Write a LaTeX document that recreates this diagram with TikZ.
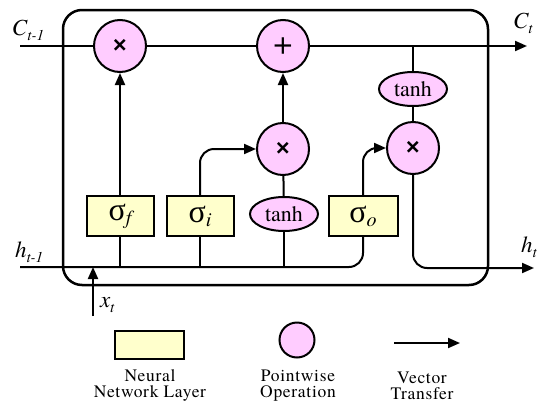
\documentclass[tikz,border=0pt]{standalone}
\usepackage{fontspec}
\setmainfont{texgyretermes}[Extension=.otf, UprightFont=*-regular,
  BoldFont=*-bold, ItalicFont=*-italic, BoldItalicFont=*-bolditalic]
\newfontfamily\greekfont{Liberation Serif}
\usepackage{xcolor}
\usetikzlibrary{shapes,arrows.meta,positioning,calc}

\definecolor{oppink}{RGB}{255,204,255}
\definecolor{nnyellow}{RGB}{255,255,204}
\newcommand{\lowsub}[1]{\raisebox{-5pt}{\fontsize{15}{15}\selectfont #1}}
\newcommand{\sgate}[1]{{\greekfont\fontsize{32}{32}\selectfont σ}\raisebox{-4pt}{\fontsize{20}{20}\selectfont\itshape #1}}
\newcommand{\opmul}{{\fontsize{29}{29}\selectfont\bfseries ×}}
\newcommand{\opadd}{{\fontsize{34}{34}\selectfont +}}

\begin{document}
\begin{tikzpicture}[
  x=1pt, y=-1pt, line width=2pt,
  op/.style={draw, line width=2pt, circle, fill=oppink,
             minimum size=52pt, inner sep=0pt},
  layer/.style={draw, line width=2pt, fill=nnyellow,
                minimum width=67pt, minimum height=40pt, inner sep=0pt},
  act/.style={draw, line width=2pt, ellipse, fill=oppink,
              minimum width=68pt, minimum height=34pt, inner sep=0pt,
              font=\fontsize{22}{22}\selectfont},
  arr/.style={draw, line width=2pt, -{Triangle[length=12pt,width=10pt]}},
  lbl/.style={font=\fontsize{23}{23}\selectfont\itshape, inner sep=0pt},
  legend/.style={align=center, inner sep=0pt,
                 font=\fontsize{17.5}{16}\selectfont\addfontfeatures{LetterSpace=4}}
]
\useasboundingbox (0,0) rectangle (538,407);

% cell frame
\draw[line width=2.5pt, rounded corners=19pt] (63,10) rectangle (488,285);

% pointwise operations
\node[op] (mf) at (120,46) {\opmul};
\node[op] (add) at (283,46) {\opadd};
\node[op] (mi) at (283,149) {\opmul};
\node[op] (mo) at (413,148) {\opmul};
\node[act] (tc) at (413,89) {tanh};
\node[act] (tg) at (284,214) {tanh};

% gates
\node[layer] (sf) at (120,216) {\sgate{f}};
\node[layer] (si) at (200,216) {\sgate{i}};
\node[layer, minimum width=69pt] (so) at (363,216) {\sgate{o}};

\coordinate (cin) at (20,46);
\coordinate (cout) at (527,46);
\coordinate (hin) at (20,267);
\coordinate (hout) at (534,268);
\coordinate (xin) at (93,316);

% cell state
\draw (cin) -- (mf);
\draw (mf) -- (add);
\draw[arr] (add) -- (cout);
\draw (tc) -- (tc |- cout);
\draw (tc) -- (mo);

% gate paths
\draw[arr] (sf) -- (mf);
\draw[arr] (mi) -- (add);
\draw (mi) -- (tg);
\draw[arr, rounded corners=14pt] (si) |- (mi);
\draw[arr, rounded corners=14pt] (so) |- (mo);
\draw[rounded corners=14pt] (hin) -- (so |- hin) -- (so);
\draw (sf) -- (sf |- hin);
\draw (si) -- (si |- hin);
\draw (tg) -- (tg |- hin);
\draw[arr, rounded corners=14pt] (mo) |- (hout);
\draw[arr] (xin) -- (xin |- hin);

% labels
\node[lbl, anchor=base west] (cprev) at (11,35) {C\lowsub{t-1}};
\node[lbl, anchor=base west] (cnext) at (512,28) {C\lowsub{t}};
\node[lbl, anchor=base west] (hprev) at (14,257) {h\lowsub{t-1}};
\node[lbl, anchor=base west] (hnext) at (520,252) {h\lowsub{t}};
\node[lbl, anchor=base west] (xcur) at (99,307) {x\lowsub{t}};

% legend
\node[layer, minimum width=69pt, minimum height=28pt] (lnn) at (149,345) {};
\node[op, minimum size=35pt] (lop) at (297,340) {};
\coordinate (lva) at (394,343);
\coordinate (lvb) at (460,343);
\draw[arr] (lva) -- (lvb);
\node[legend] (tnn) at (150,385) {Neural\\Network Layer};
\node[legend] (top) at (298,386) {Pointwise\\Operation};
\node[legend] (tvt) at (422,386) {Vector\\Transfer};
\end{tikzpicture}
\end{document}
